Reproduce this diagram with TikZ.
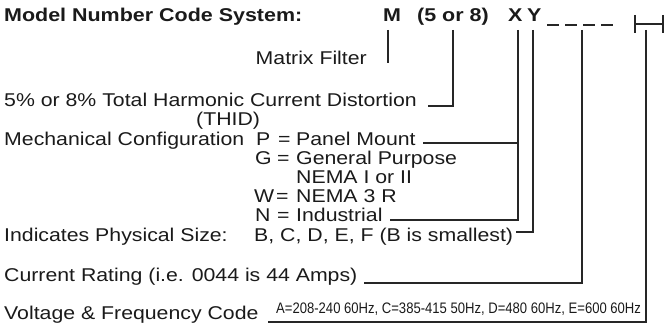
\documentclass[tikz,border=0pt]{standalone}
\usepackage{fontspec}
\setmainfont{Liberation Sans}[FakeStretch=1.15]
\newfontfamily\ttlf{Liberation Sans}[FakeStretch=1.16]
\newfontfamily\condf{Liberation Sans}[FakeStretch=0.86]
\definecolor{ink}{HTML}{1A1A1A}
\definecolor{wire}{HTML}{262626}
\begin{document}
\begin{tikzpicture}[x=1pt,y=-1pt,
  lbl/.style={inner sep=0pt, anchor=base west, text=ink, font=\fontsize{18.5}{20}\selectfont},
  ttl/.style={lbl, font=\ttlf\fontsize{18.5}{20}\selectfont\bfseries},
  tiny/.style={inner sep=0pt, anchor=base west, text=ink, font=\condf\fontsize{15.2}{16}\selectfont},
  conn/.style={draw=wire, line width=1.25pt},
  dashseg/.style={draw=wire, line width=1.5pt}
]
\useasboundingbox (0,0) rectangle (669,328);
% header
\node[ttl] (title) at (4,22) {Model Number Code System:};
\node[ttl] (cM) at (383,22) {M};
\node[ttl] (c58) at (417,22) {(5 or 8)};
\node[ttl] (cX) at (508,22) {X};
\node[ttl] (cY) at (527,22) {Y};
\foreach \i in {0,1,2,3} \draw[dashseg] ({547+\i*18},25) -- ({559+\i*18},25);
% bracket
\coordinate (bL1) at (635,15); \coordinate (bL2) at (635,33);
\coordinate (bR1) at (663,15); \coordinate (bR2) at (663,33);
\draw[conn] (bL1) -- (bL2) (bR1) -- (bR2) (635,24) -- (663,24);
% labels
\node[lbl, anchor=base east] (lMF) at (367,65) {Matrix Filter};
\node[lbl] (lTHD) at (4,107) {5\% or 8\% Total Harmonic Current Distortion};
\node[lbl] (lTHID) at (196,126) {(THID)};
\node[lbl] (lMech) at (4,146) {Mechanical Configuration};
\node[lbl] (kP) at (256,146) {P};
\node[lbl] (eP) at (278,146) {=};
\node[lbl] (dP) at (296,146) {Panel Mount};
\node[lbl] (kG) at (255,165) {G};
\node[lbl] (eG) at (277,165) {=};
\node[lbl] (dG) at (296,165) {General Purpose};
\node[lbl] (dG2) at (296,184) {NEMA I or II};
\node[lbl] (kW) at (254,203) {W};
\node[lbl] (eW) at (276,203) {=};
\node[lbl] (dW) at (296,203) {NEMA 3 R};
\node[lbl] (kN) at (255,222) {N};
\node[lbl] (eN) at (277,222) {=};
\node[lbl] (dN) at (296,222) {Industrial};
\node[lbl] (lSize) at (4,242) {Indicates Physical Size:};
\node[lbl] (dSize) at (254,242) {B, C, D, E, F (B is smallest)};
\node[lbl] (lCur) at (4,282) {Current Rating (i.e. 0044 is 44 Amps)};
\node[lbl] (lVolt) at (4,320) {Voltage \& Frequency Code};
\node[tiny] (dVolt) at (276,314) {A=208-240 60Hz, C=385-415 50Hz, D=480 60Hz, E=600 60Hz};
% connector points
\coordinate (mT) at (388,30); \coordinate (mB) at (388,63);
\coordinate (fT) at (453,30); \coordinate (fC) at (453,106); \coordinate (fE) at (428,106);
\coordinate (xT) at (518,30); \coordinate (xP) at (518,143); \coordinate (xB) at (518,220);
\coordinate (pE) at (423,143); \coordinate (nE) at (390,220);
\coordinate (yT) at (533,30); \coordinate (yC) at (533,232); \coordinate (yE) at (516,232);
\coordinate (dT) at (582,30); \coordinate (dC) at (582,283); \coordinate (dE) at (364,283);
\coordinate (bT) at (646,30); \coordinate (bC) at (646,322); \coordinate (bE) at (268,322);
% connectors
\draw[conn] (mT) -- (mB);
\draw[conn] (fT) -- (fC) -- (fE);
\draw[conn] (xT) -- (xB) -- (nE);
\draw[conn] (xP) -- (pE);
\draw[conn] (yT) -- (yC) -- (yE);
\draw[conn] (dT) -- (dC) -- (dE);
\draw[conn] (bT) -- (bC) -- (bE);
\end{tikzpicture}
\end{document}
